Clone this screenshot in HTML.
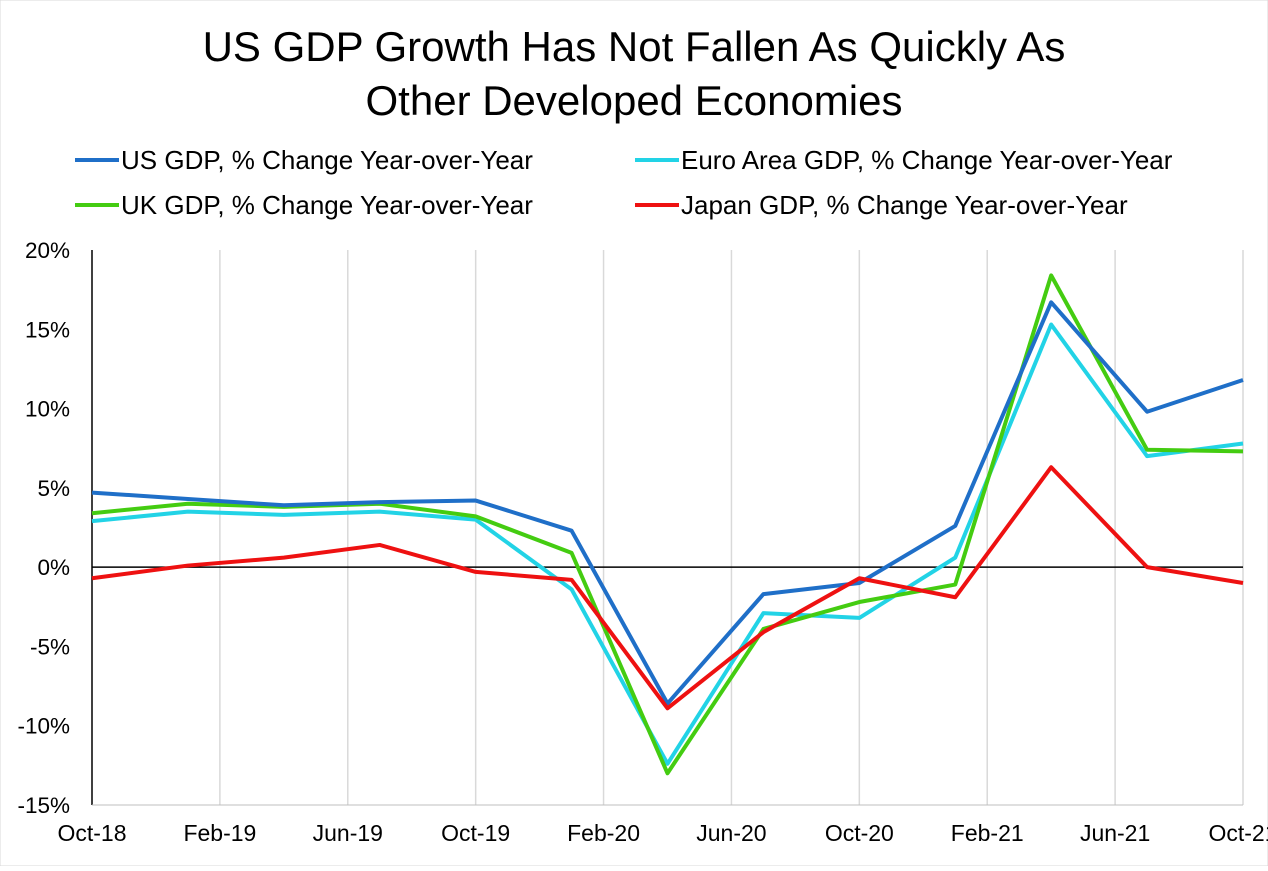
<!DOCTYPE html>
<html><head><meta charset="utf-8"><style>
body{margin:0;background:#fff;font-family:"Liberation Sans",sans-serif;}
svg text{font-family:"Liberation Sans",sans-serif;}
</style></head><body>
<svg id="chart" width="1268" height="866">
<rect width="1268" height="866" fill="#fff" stroke="#d9d9d9"/>
<text x="634" y="61" font-size="42" text-anchor="middle" fill="#000">US GDP Growth Has Not Fallen As Quickly As</text>
<text x="634" y="115" font-size="42" text-anchor="middle" fill="#000">Other Developed Economies</text>
<g id="legend"></g>
<g id="grid"></g>
<g id="axes"></g>
<g id="series"></g>
</svg>
<script>
const dates = ["Oct-18","Jan-19","Apr-19","Jul-19","Oct-19","Jan-20","Apr-20","Jul-20","Oct-20","Jan-21","Apr-21","Jul-21","Oct-21"];
const usGdp = [4.7,4.3,3.9,4.1,4.2,2.3,-8.6,-1.7,-1.0,2.6,16.7,9.8,11.8];
const euroGdp = [2.9,3.5,3.3,3.5,3.0,-1.4,-12.4,-2.9,-3.2,0.6,15.3,7.0,7.8];
const ukGdp = [3.4,4.0,3.8,4.0,3.2,0.9,-13.0,-3.9,-2.2,-1.1,18.4,7.4,7.3];
const japanGdp = [-0.7,0.1,0.6,1.4,-0.3,-0.8,-8.9,-4.1,-0.7,-1.9,6.3,0.0,-1.0];
const xTickLabels = ["Oct-18","Feb-19","Jun-19","Oct-19","Feb-20","Jun-20","Oct-20","Feb-21","Jun-21","Oct-21"];
const yTicks = [20,15,10,5,0,-5,-10,-15];

const NS="http://www.w3.org/2000/svg";
const X0=92,X1=1243,Y0=805,Y1=250,MONTHS=36;
const yMin=-15,yMax=20;
function xMonth(m){return X0+(X1-X0)*m/MONTHS;}
function xIdx(i){return xMonth(i*3);}
function y(v){return Y0-(v-yMin)/(yMax-yMin)*(Y0-Y1);}
function mk(tag,attrs,parent){const e=document.createElementNS(NS,tag);for(const k in attrs)e.setAttribute(k,attrs[k]);parent.appendChild(e);return e;}
const grid=document.getElementById('grid'),axes=document.getElementById('axes'),ser=document.getElementById('series'),leg=document.getElementById('legend');

xTickLabels.forEach((lab,i)=>{
  const x=xMonth(i*4);
  if(i>0){const l=mk('line',{x1:x,x2:x,y1:Y1,y2:Y0,stroke:'#d9d9d9','stroke-width':1.5},grid);
  
  }
  const t=mk('text',{x:x,y:841,'font-size':23,'text-anchor':'middle',fill:'#000'},axes);
  t.textContent=lab;
  
  
});
yTicks.forEach(v=>{
  const t=mk('text',{x:70,y:y(v)+8,'font-size':22.5,'text-anchor':'end',fill:'#000'},axes);
  t.textContent=v+'%';
  
  
});
let a=mk('line',{x1:X0,x2:X0,y1:Y1,y2:Y0,stroke:'#000','stroke-width':1.5},axes);


a=mk('line',{x1:X0,x2:X1,y1:y(0),y2:y(0),stroke:'#000','stroke-width':1.5},axes);


a=mk('line',{x1:X0,x2:X1,y1:Y0,y2:Y0,stroke:'#bfbfbf','stroke-width':1},axes);



const seriesList=[
 {d:euroGdp,c:'#22d3e6',n:'euro-area-gdp-line',label:'Euro Area GDP, % Change Year-over-Year',lx:635,ly:160},
 {d:ukGdp,c:'#44cc11',n:'uk-gdp-line',label:'UK GDP, % Change Year-over-Year',lx:75,ly:205},
 {d:usGdp,c:'#1f6fc8',n:'us-gdp-line',label:'US GDP, % Change Year-over-Year',lx:75,ly:160},
 {d:japanGdp,c:'#ee1111',n:'japan-gdp-line',label:'Japan GDP, % Change Year-over-Year',lx:635,ly:205}
];
seriesList.forEach(s=>{
  const p=mk('polyline',{points:s.d.map((v,i)=>xIdx(i)+','+y(v)).join(' '),fill:'none',stroke:s.c,'stroke-width':4,'stroke-linejoin':'round'},ser);
  
  
  const l=mk('line',{x1:s.lx,x2:s.lx+44,y1:s.ly,y2:s.ly,stroke:s.c,'stroke-width':4},leg);
  
  
  const t=mk('text',{x:s.lx+46,y:s.ly+9,'font-size':26,fill:'#000'},leg);
  t.textContent=s.label;
  
  
});
</script>
</body></html>
